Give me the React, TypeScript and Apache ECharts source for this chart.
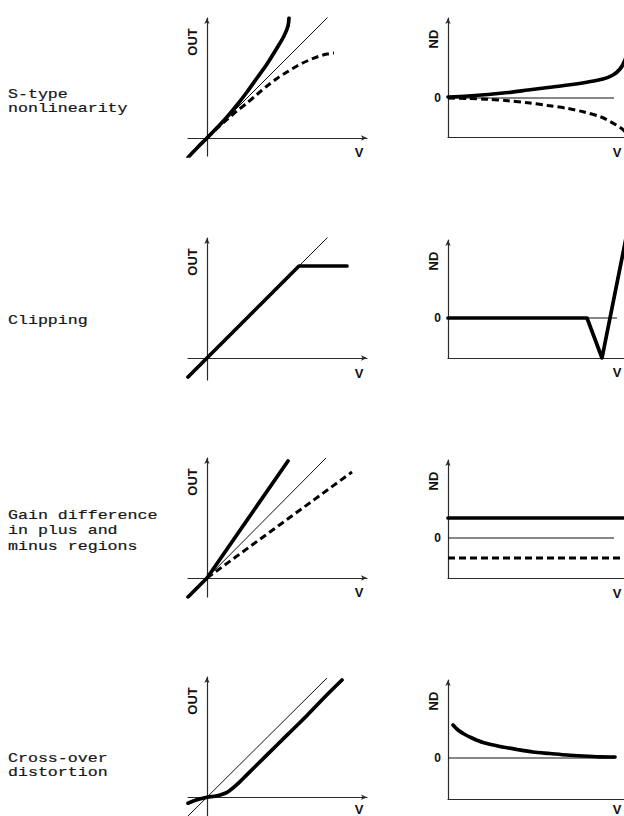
import { useEffect, useRef } from "react";
import * as echarts from "echarts";

// ---------- data (V on x, OUT / ND on y; arbitrary units) ----------
// Row 1: S-type nonlinearity
const sIdentity = [[-1.9, -1.9], [12.2, 12.2]];
const sOutSolid = [[-1.9, -1.95], [-1, -1.0], [0, 0], [1, 1.02], [2, 2.1], [3, 3.3], [4, 4.6], [5, 6.0], [6, 7.4], [7, 9.0], [7.7, 10.2], [8.1, 11.2], [8.2, 12.0]];
const sOutDashed = [[0, 0], [1, 0.95], [2, 1.85], [3, 2.7], [4, 3.5], [5, 4.35], [6, 5.2], [7, 5.95], [8, 6.6], [9, 7.2], [10, 7.7], [11, 8.1], [12, 8.4], [12.7, 8.5]];
const sNdZero = [[0, 0], [16.6, 0]];
const sNdSolid = [[0, 0.1], [2, 0.2], [4, 0.35], [6, 0.55], [8, 0.8], [10, 1.05], [12, 1.3], [14, 1.6], [15.5, 1.9], [16.5, 2.3], [17.2, 2.9], [17.7, 3.8], [18.0, 5.0], [18.2, 6.5], [18.3, 8.0]];
const sNdDashed = [[0, 0], [2, -0.05], [4, -0.12], [6, -0.28], [8, -0.48], [10, -0.75], [12, -1.05], [13.6, -1.4], [15.3, -1.9], [16.3, -2.4], [17.3, -3.0], [17.8, -3.5], [18.1, -4.0]];

// Row 2: Clipping
const clipIdentity = [[-1.9, -1.9], [12.1, 12.1]];
const clipOut = [[-1.9, -1.9], [9.2, 9.2], [14.0, 9.2]];
const clipNdZero = [[0, 0], [16.9, 0]];
const clipNd = [[0, 0], [13.9, 0], [15.4, -4.0], [17.5, 6.5], [17.8, 8.0]];

// Row 3: Gain difference in plus and minus regions
const gainIdentity = [[-1.9, -1.9], [11.9, 12.0]];
const gainPlus = [[-1.9, -1.9], [0, 0], [8.1, 11.7]];
const gainMinus = [[0, 0], [14.5, 10.6]];
const gainNdZero = [[0, 0], [16.6, 0]];
const gainNdPlus = [[0, 2.0], [20, 2.0]];
const gainNdMinus = [[0, -2.0], [20, -2.0]];

// Row 4: Cross-over distortion
const crossIdentity = [[-1.9, -1.9], [12.0, 12.1]];
const crossOut = [[-1.9, -0.6], [-1, -0.25], [0, 0], [1, 0.15], [2, 0.5], [3, 1.3], [4, 2.3], [6, 4.3], [8, 6.3], [10, 8.3], [12, 10.4], [13.5, 11.9]];
const crossNdZero = [[0, 0], [16.7, 0]];
const crossNd = [[0.5, 3.3], [1.0, 2.8], [1.6, 2.4], [2.4, 2.0], [3.5, 1.55], [5.2, 1.15], [6.9, 0.85], [8.5, 0.6], [10.2, 0.45], [11.9, 0.3], [13.5, 0.2], [15.2, 0.12], [16.7, 0.1]];

const rowLabels = [
  ["S-type", "nonlinearity"],
  ["Clipping"],
  ["Gain difference", "in plus and", "minus regions"],
  ["Cross-over", "distortion"],
];

// ---------- layout ----------
type Panel = { left: number; top: number; width: number; height: number; x: [number, number]; y: [number, number]; nd: boolean };
const panels: Panel[] = [
  { left: 188, top: 18, width: 179, height: 138, x: [-1.9, 16.0], y: [-1.8, 12.0], nd: false },
  { left: 448, top: 18, width: 200, height: 119, x: [0, 20], y: [-3.9, 8.0], nd: true },
  { left: 188, top: 238, width: 179, height: 142, x: [-1.9, 16.0], y: [-2.2, 12.0], nd: false },
  { left: 448, top: 240, width: 200, height: 118, x: [0, 20], y: [-4.0, 7.8], nd: true },
  { left: 188, top: 458, width: 179, height: 139, x: [-1.9, 16.0], y: [-1.9, 12.0], nd: false },
  { left: 448, top: 460, width: 200, height: 118, x: [0, 20], y: [-4.0, 7.8], nd: true },
  { left: 188, top: 677, width: 179, height: 141, x: [-1.9, 16.0], y: [-1.9, 12.2], nd: false },
  { left: 448, top: 680, width: 200, height: 119, x: [0, 20], y: [-4.1, 7.8], nd: true },
];
const rowLabelY = [[94, 108], [320], [515, 530, 546], [758, 772]];
const vLabelY = [152, 152, 373, 372, 592, 593, 809, 809];

const INK = "#111";
const AXIS = "#2a2a2a";

type Kind = "thin" | "thick" | "dash";
function line(gi: number, data: number[][], kind: Kind, smooth = false) {
  const base: any = {
    type: "line",
    xAxisIndex: gi,
    yAxisIndex: gi,
    data,
    symbol: "none",
    smooth: smooth ? 0.3 : false,
    silent: true,
    clip: true,
  };
  if (kind === "thin") base.lineStyle = { color: INK, width: 1 };
  if (kind === "thick") base.lineStyle = { color: "#000", width: 3.7, cap: "round", join: "round" };
  if (kind === "dash") base.lineStyle = { color: "#000", width: 3, type: [7, 4] };
  return base;
}

function buildOption() {
  const grid = panels.map((p) => ({ left: p.left, top: p.top, width: p.width, height: p.height, containLabel: false }));
  const xAxis = panels.map((p, i) => ({
    type: "value",
    gridIndex: i,
    min: p.x[0],
    max: p.x[1],
    axisLine: { show: true, onZero: !p.nd, symbol: ["none", "arrow"], symbolSize: [4, 6], lineStyle: { color: AXIS, width: 1.2 } },
    axisTick: { show: false },
    axisLabel: { show: false },
    splitLine: { show: false },
  }));
  const yAxis = panels.map((p, i) => ({
    type: "value",
    gridIndex: i,
    min: p.y[0],
    max: p.y[1],
    axisLine: { show: true, onZero: true, symbol: ["none", "arrow"], symbolSize: [4, 6], lineStyle: { color: AXIS, width: 1.2 } },
    axisTick: { show: false },
    axisLabel: p.nd
      ? { show: true, customValues: [0], margin: 7, fontFamily: "Liberation Sans", fontWeight: "bold", fontSize: 12, color: INK }
      : { show: false },
    splitLine: { show: false },
  }));

  const series = [
    line(0, sIdentity, "thin"),
    line(0, sOutDashed, "dash", true),
    line(0, sOutSolid, "thick", true),
    line(1, sNdZero, "thin"),
    line(1, sNdDashed, "dash", true),
    line(1, sNdSolid, "thick", true),
    line(2, clipIdentity, "thin"),
    line(2, clipOut, "thick"),
    line(3, clipNdZero, "thin"),
    line(3, clipNd, "thick"),
    line(4, gainIdentity, "thin"),
    line(4, gainMinus, "dash"),
    line(4, gainPlus, "thick"),
    line(5, gainNdZero, "thin"),
    line(5, gainNdMinus, "dash"),
    line(5, gainNdPlus, "thick"),
    line(6, crossIdentity, "thin"),
    line(6, crossOut, "thick", true),
    line(7, crossNdZero, "thin"),
    line(7, crossNd, "thick", true),
  ];

  const graphic: any[] = [];
  rowLabels.forEach((lines, r) => {
    lines.forEach((t, k) => {
      graphic.push({
        type: "text",
        x: 8,
        y: rowLabelY[r][k],
        scaleX: 1.23,
        silent: true,
        style: {
          text: t,
          font: '13.5px "Liberation Mono"',
          fill: "#161616",
          stroke: "#161616",
          lineWidth: 0.2,
          align: "left",
          verticalAlign: "middle",
        },
      });
    });
  });
  const axisFont = 'bold 13px "Liberation Sans"';
  panels.forEach((p, i) => {
    graphic.push({
      type: "text",
      x: p.nd ? 433 : 192,
      y: p.top + (p.nd ? 21 : 24),
      rotation: Math.PI / 2,
      silent: true,
      style: { text: p.nd ? "ND" : "OUT", font: axisFont, fill: INK, align: "center", verticalAlign: "middle" },
    });
    graphic.push({
      type: "text",
      x: p.nd ? 617 : 359,
      y: vLabelY[i],
      silent: true,
      style: { text: "V", font: axisFont, fill: INK, align: "center", verticalAlign: "middle" },
    });
  });

  return { animation: false, backgroundColor: "#fff", grid, xAxis, yAxis, series, graphic };
}

export default function App() {
  const ref = useRef<HTMLDivElement>(null);
  useEffect(() => {
    if (!ref.current) return;
    const chart = echarts.init(ref.current, null, { renderer: "svg" });
    chart.setOption(buildOption() as any);
    return () => chart.dispose();
  }, []);
  return (
    <div style={{ position: "absolute", left: 0, top: 0, width: 624, height: 816, overflow: "hidden", background: "#fff" }}>
      <div ref={ref} style={{ width: 680, height: 816 }} />
    </div>
  );
}
